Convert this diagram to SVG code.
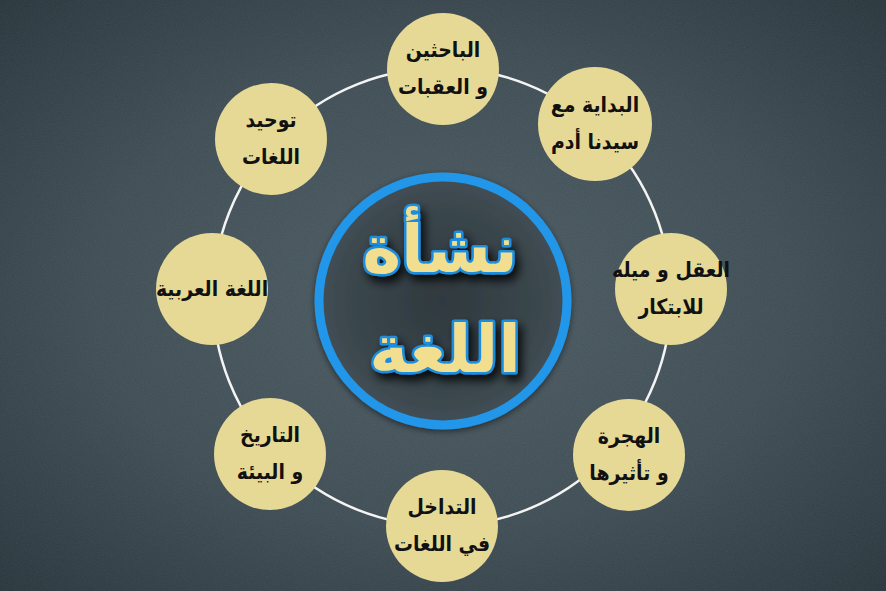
<svg xmlns="http://www.w3.org/2000/svg" width="886" height="591" viewBox="0 0 886 591">
<defs>
<radialGradient id="bg" cx="50%" cy="50%" r="72%">
<stop offset="0" stop-color="#4b5a61"/>
<stop offset="0.55" stop-color="#3d4b53"/>
<stop offset="1" stop-color="#27333a"/>
</radialGradient>
<radialGradient id="inner" cx="50%" cy="50%" r="50%">
<stop offset="0" stop-color="#2f393f"/>
<stop offset="0.75" stop-color="#3a464c"/>
<stop offset="1" stop-color="#424f56"/>
</radialGradient>
<filter id="noise" x="0" y="0" width="100%" height="100%">
<feTurbulence type="fractalNoise" baseFrequency="0.9" numOctaves="2" seed="3" result="n"/>
<feColorMatrix in="n" type="matrix" values="0 0 0 0 1  0 0 0 0 1  0 0 0 0 1  0 0 0 0.07 0"/>
</filter>
<filter id="shadow" x="-30%" y="-30%" width="160%" height="160%">
<feGaussianBlur in="SourceAlpha" stdDeviation="5"/>
<feOffset dx="4" dy="6" result="b"/>
<feComponentTransfer><feFuncA type="linear" slope="0.85"/></feComponentTransfer>
<feMerge><feMergeNode/><feMergeNode in="SourceGraphic"/></feMerge>
</filter>
<filter id="ringshadow" x="-20%" y="-20%" width="140%" height="140%">
<feGaussianBlur in="SourceAlpha" stdDeviation="3"/>
<feOffset dx="0" dy="2"/>
<feComponentTransfer><feFuncA type="linear" slope="0.5"/></feComponentTransfer>
<feMerge><feMergeNode/><feMergeNode in="SourceGraphic"/></feMerge>
</filter>
</defs>
<style>
.node circle{fill:#e6d996}
.node text{font-family:"DejaVu Sans Condensed","DejaVu Sans",sans-serif;font-stretch:condensed;font-weight:bold;font-size:21px;fill:#111;text-anchor:middle}
.title{font-family:"DejaVu Sans",sans-serif;font-weight:bold;font-size:66px;fill:#f1df8f;stroke:#1d8ee0;stroke-width:5;paint-order:stroke;stroke-linejoin:round;text-anchor:middle}
</style>
<rect width="886" height="591" fill="url(#bg)"/>
<rect width="886" height="591" filter="url(#noise)"/>
<g id="connectors">
<circle cx="442" cy="297" r="229" fill="none" stroke="#f4f4f4" stroke-width="2.5"/>
</g>
<g id="center">
<circle cx="443" cy="301" r="124" fill="url(#inner)" stroke="#2196e8" stroke-width="9" filter="url(#ringshadow)"/>
<g filter="url(#shadow)">
<text class="title" x="440" y="272">نشأة</text>
<text class="title" x="445" y="372">اللغة</text>
</g>
</g>
<g id="n-top" class="node"><circle cx="443" cy="69" r="56"/><text x="443" y="57">الباحثين</text><text x="443" y="94">و العقبات</text></g>
<g id="n-topright" class="node"><circle cx="595" cy="124" r="57"/><text x="595" y="112">البداية مع</text><text x="595" y="149">سيدنا أدم</text></g>
<g id="n-right" class="node"><circle cx="671" cy="289" r="56"/><text x="671" y="277">العقل و ميله</text><text x="671" y="314">للابتكار</text></g>
<g id="n-bottomright" class="node"><circle cx="629" cy="455" r="56"/><text x="629" y="443">الهجرة</text><text x="629" y="480">و تأثيرها</text></g>
<g id="n-bottom" class="node"><circle cx="442" cy="526" r="56"/><text x="442" y="514">التداخل</text><text x="442" y="551">في اللغات</text></g>
<g id="n-bottomleft" class="node"><circle cx="270" cy="454" r="56"/><text x="270" y="442">التاريخ</text><text x="270" y="479">و البيئة</text></g>
<g id="n-left" class="node"><circle cx="212" cy="289" r="56"/><text x="212" y="296">اللغة العربية</text></g>
<g id="n-topleft" class="node"><circle cx="271" cy="139" r="56"/><text x="271" y="127">توحيد</text><text x="271" y="164">اللغات</text></g>
</svg>
